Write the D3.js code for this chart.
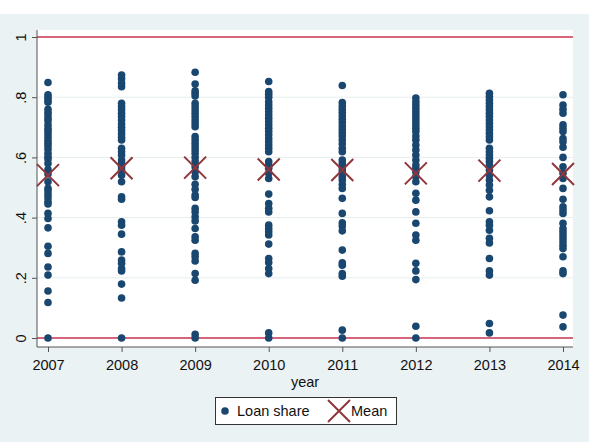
<!DOCTYPE html>
<html>
<head>
<meta charset="utf-8">
<script src="https://cdn.jsdelivr.net/npm/d3@7"></script>
<style>
  body { margin: 0; background: #fff; }
  text { font-family: "Liberation Sans", Arial, sans-serif; fill: #111; }
</style>
</head>
<body>
<div id="container"></div>
<script>
/* DATA */
const years = [2007, 2008, 2009, 2010, 2011, 2012, 2013, 2014];

const share2007 = [0.849, 0.808, 0.800, 0.791, 0.783, 0.760, 0.750, 0.741, 0.730, 0.722, 0.708, 0.697,
  0.688, 0.678, 0.667, 0.656, 0.647, 0.638, 0.627, 0.614, 0.602, 0.595, 0.580, 0.560, 0.545, 0.519,
  0.497, 0.488, 0.477, 0.466, 0.453, 0.445, 0.414, 0.397, 0.366, 0.305, 0.281, 0.236, 0.209, 0.156,
  0.118, 0.0];
const share2008 = [0.874, 0.861, 0.847, 0.835, 0.780, 0.769, 0.758, 0.747, 0.736, 0.724, 0.711, 0.700,
  0.689, 0.678, 0.667, 0.658, 0.630, 0.619, 0.608, 0.591, 0.580, 0.569, 0.558, 0.541, 0.519, 0.469,
  0.461, 0.386, 0.375, 0.345, 0.286, 0.259, 0.248, 0.231, 0.223, 0.179, 0.133, 0.0];
const share2009 = [0.883, 0.844, 0.821, 0.813, 0.804, 0.780, 0.769, 0.758, 0.747, 0.736, 0.724, 0.713,
  0.702, 0.669, 0.658, 0.647, 0.636, 0.625, 0.614, 0.600, 0.586, 0.569, 0.552, 0.536, 0.511, 0.494,
  0.475, 0.467, 0.431, 0.419, 0.403, 0.389, 0.364, 0.336, 0.325, 0.281, 0.270, 0.256, 0.214, 0.192,
  0.012, 0.0];
const share2010 = [0.852, 0.819, 0.810, 0.800, 0.785, 0.774, 0.763, 0.752, 0.741, 0.730, 0.719, 0.708,
  0.697, 0.686, 0.675, 0.663, 0.652, 0.641, 0.630, 0.619, 0.586, 0.575, 0.564, 0.547, 0.530, 0.478,
  0.447, 0.431, 0.419, 0.375, 0.364, 0.353, 0.342, 0.312, 0.264, 0.251, 0.231, 0.214, 0.017, 0.0];
const share2011 = [0.839, 0.782, 0.771, 0.760, 0.749, 0.738, 0.727, 0.716, 0.704, 0.693, 0.682, 0.671,
  0.658, 0.645, 0.630, 0.619, 0.591, 0.580, 0.569, 0.558, 0.547, 0.536, 0.525, 0.511, 0.497, 0.464,
  0.414, 0.383, 0.372, 0.356, 0.292, 0.250, 0.242, 0.214, 0.205, 0.026, 0.0];
const share2012 = [0.797, 0.785, 0.774, 0.763, 0.752, 0.741, 0.730, 0.719, 0.708, 0.697, 0.686, 0.671,
  0.658, 0.641, 0.625, 0.608, 0.591, 0.575, 0.564, 0.552, 0.536, 0.519, 0.481, 0.458, 0.419, 0.381,
  0.342, 0.325, 0.248, 0.223, 0.194, 0.039, 0.0];
const share2013 = [0.813, 0.802, 0.791, 0.780, 0.769, 0.758, 0.747, 0.736, 0.724, 0.713, 0.702, 0.691,
  0.680, 0.669, 0.658, 0.630, 0.619, 0.608, 0.597, 0.586, 0.575, 0.558, 0.541, 0.525, 0.508, 0.491,
  0.469, 0.423, 0.386, 0.375, 0.358, 0.331, 0.316, 0.264, 0.223, 0.209, 0.048, 0.017];
const share2014 = [0.808, 0.774, 0.760, 0.747, 0.708, 0.697, 0.686, 0.663, 0.652, 0.634, 0.600, 0.569,
  0.547, 0.530, 0.497, 0.461, 0.436, 0.425, 0.414, 0.381, 0.364, 0.353, 0.342, 0.331, 0.320, 0.308,
  0.297, 0.270, 0.223, 0.214, 0.076, 0.037];

const meanShare = [0.541, 0.564, 0.566, 0.560, 0.558, 0.547, 0.556, 0.545];

const yTicks = [0, 0.2, 0.4, 0.6, 0.8, 1];
const yTickLabels = ["0", ".2", ".4", ".6", ".8", "1"];
const refLines = [0, 1];

/* CONSTANTS */
const width = 589, height = 442;
const plot = { left: 37, right: 573, top: 30, bottom: 347 };
const navy = "#1a476f", maroon = "#90353b", refColor = "#c8304f";

const shares = [share2007, share2008, share2009, share2010, share2011, share2012, share2013, share2014];
const points = [];
years.forEach((yr, i) => shares[i].forEach(v => points.push({ year: yr, value: v })));
const means = years.map((yr, i) => ({ year: yr, value: meanShare[i] }));

/* SCALES */
const xScale = d3.scaleLinear()
  .domain([2007, 2014])
  .range([48, 563]);

const yScale = d3.scaleLinear()
  .domain([0, 1])
  .range([338, 37]);

/* SVG */
const svg = d3.select("#container")
  .append("svg")
  .attr("width", width)
  .attr("height", height);

// graph region + plot region
svg.append("rect")
  .attr("x", 0).attr("y", 14)
  .attr("width", width).attr("height", height - 14)
  .attr("fill", "#eaf2f3");

svg.append("rect")
  .attr("x", plot.left).attr("y", plot.top)
  .attr("width", plot.right - plot.left).attr("height", plot.bottom - plot.top)
  .attr("fill", "#fff");

// grid
svg.append("g")
  .selectAll("line")
  .data(yTicks.filter(d => d > 0 && d < 1))
  .join("line")
  .attr("x1", plot.left).attr("x2", plot.right)
  .attr("y1", d => yScale(d)).attr("y2", d => yScale(d))
  .attr("stroke", "#e6eded")
  .attr("stroke-width", 1);

// reference lines at 0 and 1
svg.append("g")
  .selectAll("line")
  .data(refLines)
  .join("line")
  .attr("x1", plot.left).attr("x2", plot.right)
  .attr("y1", d => yScale(d)).attr("y2", d => yScale(d))
  .attr("stroke", refColor)
  .attr("stroke-width", 1.6);

// axes
const yAxis = d3.axisLeft(yScale)
  .tickValues(yTicks)
  .tickFormat((d, i) => yTickLabels[i])
  .tickSize(5)
  .tickPadding(4);

const gy = svg.append("g")
  .attr("transform", `translate(${plot.left},0)`)
  .call(yAxis);
gy.select(".domain").attr("d", `M0,${plot.top}V${plot.bottom}`);
gy.selectAll(".tick text")
  .attr("transform", "rotate(-90)")
  .attr("x", 0).attr("y", -11)
  .attr("dy", 0)
  .style("text-anchor", "middle");

const xAxis = d3.axisBottom(xScale)
  .tickValues(years)
  .tickFormat(d3.format("d"))
  .tickSize(5)
  .tickPadding(8);

const gx = svg.append("g")
  .attr("transform", `translate(0,${plot.bottom})`)
  .call(xAxis);
gx.select(".domain").attr("d", `M${plot.left},0H${plot.right}`);

svg.selectAll(".domain, .tick line").attr("stroke", "#555");
svg.selectAll(".tick text")
  .style("font-family", "'Liberation Sans', Arial, sans-serif")
  .style("font-size", "14.5px")
  .attr("fill", "#111");

// axis title
svg.append("text")
  .attr("x", (plot.left + plot.right) / 2)
  .attr("y", 387)
  .style("text-anchor", "middle")
  .style("font-size", "14.5px")
  .text("year");

// dots
svg.append("g")
  .selectAll("circle")
  .data(points)
  .join("circle")
  .attr("cx", d => xScale(d.year))
  .attr("cy", d => yScale(d.value))
  .attr("r", 3.8)
  .attr("fill", navy);

// means
const xMark = "M-11,-11L11,11M-11,11L11,-11";
svg.append("g")
  .selectAll("path")
  .data(means)
  .join("path")
  .attr("transform", d => `translate(${xScale(d.year)},${yScale(d.value)})`)
  .attr("d", xMark)
  .attr("stroke", maroon)
  .attr("stroke-width", 2)
  .attr("fill", "none");

// legend
const legend = svg.append("g");
legend.append("rect")
  .attr("x", 215.5).attr("y", 397.5)
  .attr("width", 181).attr("height", 27)
  .attr("fill", "#fff")
  .attr("stroke", "#333");
legend.append("circle")
  .attr("cx", 225).attr("cy", 411)
  .attr("r", 3.8)
  .attr("fill", navy);
legend.append("text")
  .attr("x", 237).attr("y", 416)
  .style("font-size", "14.5px")
  .text("Loan share");
legend.append("path")
  .attr("transform", "translate(339,411)")
  .attr("d", xMark)
  .attr("stroke", maroon)
  .attr("stroke-width", 2)
  .attr("fill", "none");
legend.append("text")
  .attr("x", 351).attr("y", 416)
  .style("font-size", "14.5px")
  .text("Mean");
</script>
</body>
</html>
